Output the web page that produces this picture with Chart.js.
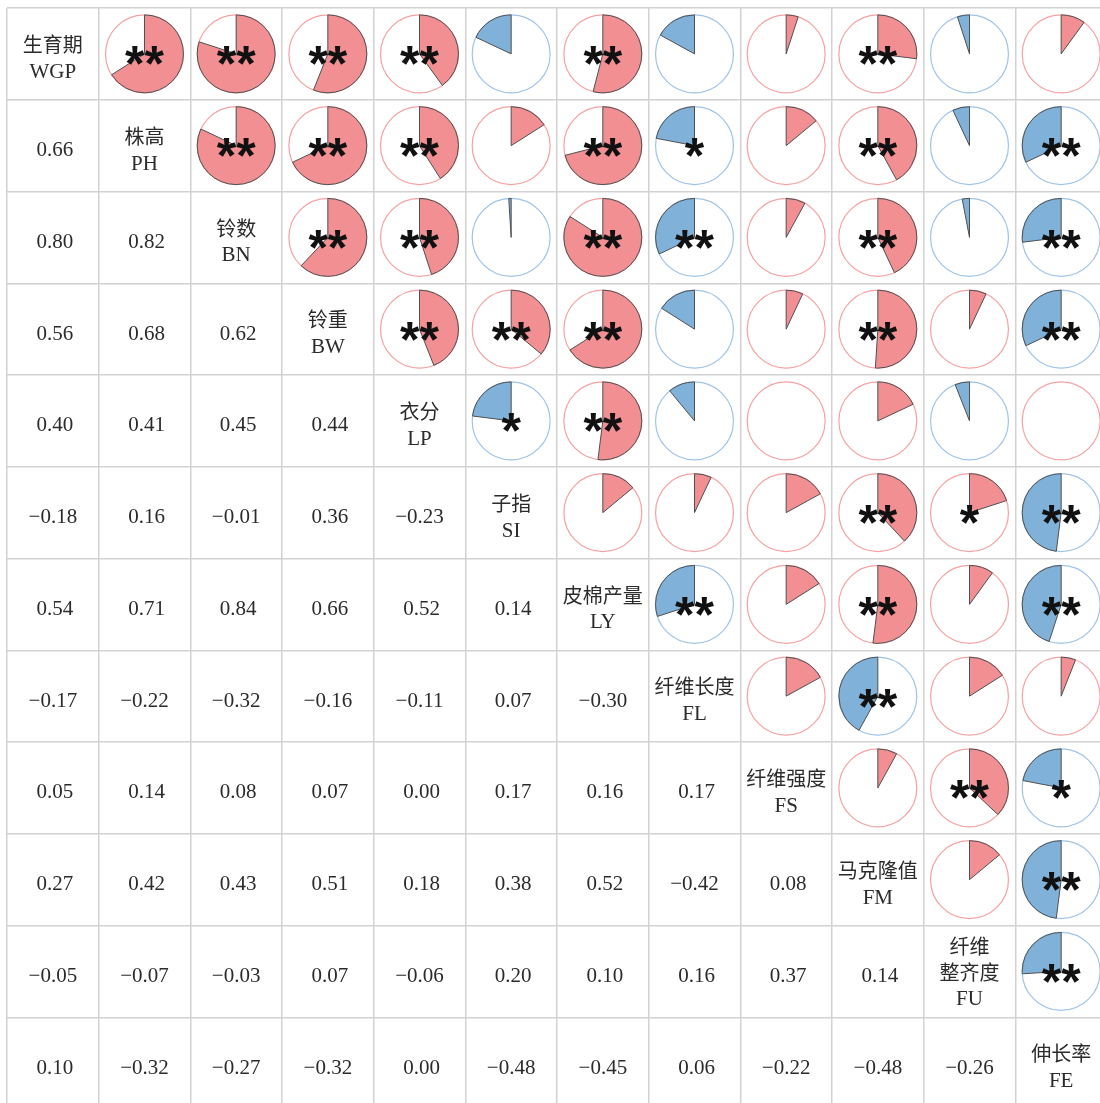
<!DOCTYPE html>
<html>
<head>
<meta charset="utf-8">
<title>性状相关矩阵</title>
<script src="https://cdn.jsdelivr.net/npm/chart.js@4.4.1/dist/chart.umd.min.js"></script>
<style>
  html, body { margin: 0; padding: 0; background: #fff; overflow: hidden; }
  canvas { display: block; }
</style>
</head>
<body>
<canvas id="corrChart" width="1107" height="1109"></canvas>
<script>
// trait names: Chinese line(s) + abbreviation
const namesCn = [['生育期'], ['株高'], ['铃数'], ['铃重'], ['衣分'], ['子指'], ['皮棉产量'],
  ['纤维长度'], ['纤维强度'], ['马克隆值'], ['纤维', '整齐度'], ['伸长率']];
const namesEn = ['WGP', 'PH', 'BN', 'BW', 'LP', 'SI', 'LY', 'FL', 'FS', 'FM', 'FU', 'FE'];

// correlation coefficients, lower triangle (row i, columns 0..i-1)
const corrRows = [
  [],
  [0.66],
  [0.80, 0.82],
  [0.56, 0.68, 0.62],
  [0.40, 0.41, 0.45, 0.44],
  [-0.18, 0.16, -0.01, 0.36, -0.23],
  [0.54, 0.71, 0.84, 0.66, 0.52, 0.14],
  [-0.17, -0.22, -0.32, -0.16, -0.11, 0.07, -0.30],
  [0.05, 0.14, 0.08, 0.07, 0.00, 0.17, 0.16, 0.17],
  [0.27, 0.42, 0.43, 0.51, 0.18, 0.38, 0.52, -0.42, 0.08],
  [-0.05, -0.07, -0.03, 0.07, -0.06, 0.20, 0.10, 0.16, 0.37, 0.14],
  [0.10, -0.32, -0.27, -0.32, 0.00, -0.48, -0.45, 0.06, -0.22, -0.48, -0.26]
];

// significance marks, same layout as corrRows
const sigRows = [
  [],
  ['**'],
  ['**', '**'],
  ['**', '**', '**'],
  ['**', '**', '**', '**'],
  ['', '', '', '**', '*'],
  ['**', '**', '**', '**', '**', ''],
  ['', '*', '**', '', '', '', '**'],
  ['', '', '', '', '', '', '', ''],
  ['**', '**', '**', '**', '', '**', '**', '**', ''],
  ['', '', '', '', '', '*', '', '', '**', ''],
  ['', '**', '**', '**', '', '**', '**', '', '*', '**', '**']
];

const nVars = namesEn.length;
const posFill = '#f18f93', posLine = '#f6a1a3';
const negFill = '#80b1d8', negLine = '#9fc3e7';
const textColor = '#2b2b2b';

// upper triangle -> pies, lower triangle -> numbers, diagonal -> names
const piePoints = [], numPoints = [], diagPoints = [];
corrRows.forEach((row, i) => {
  row.forEach((v, j) => {
    numPoints.push({ x: j + 1, y: i + 1, v: v });
    piePoints.push({ x: i + 1, y: j + 1, v: v, sig: sigRows[i][j] });
  });
});
namesEn.forEach((n, i) => diagPoints.push({ x: i + 1, y: i + 1, cn: namesCn[i], en: n }));

function fmt(v) {
  const s = Math.abs(v).toFixed(2);
  return v < 0 ? '\u2212' + s : s;
}

const cellPlugin = {
  id: 'cellPlugin',
  afterDatasetsDraw(chart) {
    const ctx = chart.ctx;
    const xs = chart.scales.x;
    const cellW = Math.abs(xs.getPixelForValue(1) - xs.getPixelForValue(0));
    const R = cellW * 0.425;

    // pies
    const pieMeta = chart.getDatasetMeta(0);
    pieMeta.data.forEach((el, k) => {
      const d = chart.data.datasets[0].data[k];
      const neg = d.v < 0;
      ctx.save();
      ctx.beginPath();
      ctx.arc(el.x, el.y, R, 0, Math.PI * 2);
      ctx.strokeStyle = neg ? negLine : posLine;
      ctx.lineWidth = 1.2;
      ctx.stroke();
      const a = Math.abs(d.v);
      if (a > 0) {
        const start = -Math.PI / 2;
        const end = start + (neg ? -1 : 1) * Math.PI * 2 * a;
        ctx.beginPath();
        ctx.moveTo(el.x, el.y);
        ctx.arc(el.x, el.y, R, start, end, neg);
        ctx.closePath();
        ctx.fillStyle = neg ? negFill : posFill;
        ctx.fill();
        ctx.strokeStyle = '#505050';
        ctx.lineWidth = 1;
        ctx.stroke();
      }
      if (d.sig) {
        ctx.font = 'bold 50px "Liberation Sans", Arial, sans-serif';
        ctx.textAlign = 'center';
        ctx.textBaseline = 'alphabetic';
        const m = ctx.measureText(d.sig);
        const off = (m.actualBoundingBoxAscent - m.actualBoundingBoxDescent) / 2;
        ctx.fillStyle = '#111';
        ctx.fillText(d.sig, el.x, el.y + 2 + off);
      }
      ctx.restore();
    });

    // coefficients
    const numMeta = chart.getDatasetMeta(1);
    ctx.save();
    ctx.font = '21px "Liberation Serif", "Times New Roman", serif';
    ctx.textAlign = 'center';
    ctx.textBaseline = 'middle';
    ctx.fillStyle = textColor;
    numMeta.data.forEach((el, k) => {
      const d = chart.data.datasets[1].data[k];
      ctx.fillText(fmt(d.v), el.x + (d.v >= 0 ? 2 : 0), el.y + 5);
    });
    ctx.restore();

    // trait names on the diagonal
    const diagMeta = chart.getDatasetMeta(2);
    ctx.save();
    ctx.textAlign = 'center';
    ctx.textBaseline = 'middle';
    ctx.fillStyle = textColor;
    diagMeta.data.forEach((el, k) => {
      const d = chart.data.datasets[2].data[k];
      const lines = d.cn.concat([d.en]);
      const lh = 25.5;
      const top = (lines.length === 3 ? el.y - lh : el.y - 10) + 3;
      lines.forEach((t, li) => {
        ctx.font = (li < lines.length - 1 ? '20px' : '21px') +
          ' "Liberation Serif", "Noto Sans CJK SC", serif';
        ctx.fillText(t, el.x, top + li * lh);
      });
    });
    ctx.restore();
  }
};

const gridTicks = Array.from({ length: nVars + 1 }, (_, k) => ({ value: k + 0.5 }));

function axis(reverse) {
  return {
    type: 'linear',
    min: 0.5,
    max: nVars + 0.5,
    reverse: reverse,
    afterBuildTicks: s => { s.ticks = gridTicks.map(t => ({ value: t.value })); },
    ticks: { display: false, padding: 0 },
    grid: { color: '#d2d2d2', lineWidth: 1.5, drawTicks: false, tickLength: 0 },
    border: { display: false }
  };
}

new Chart(document.getElementById('corrChart'), {
  type: 'scatter',
  data: {
    datasets: [
      { label: 'pies', data: piePoints, pointRadius: 0 },
      { label: 'coef', data: numPoints, pointRadius: 0 },
      { label: 'names', data: diagPoints, pointRadius: 0 }
    ]
  },
  options: {
    responsive: false,
    devicePixelRatio: 1,
    animation: false,
    events: [],
    layout: { padding: { left: 7, top: 8, right: 0, bottom: 0 } },
    scales: { x: axis(false), y: axis(true) },
    plugins: { legend: { display: false }, tooltip: { enabled: false } }
  },
  plugins: [cellPlugin]
});
</script>
</body>
</html>
